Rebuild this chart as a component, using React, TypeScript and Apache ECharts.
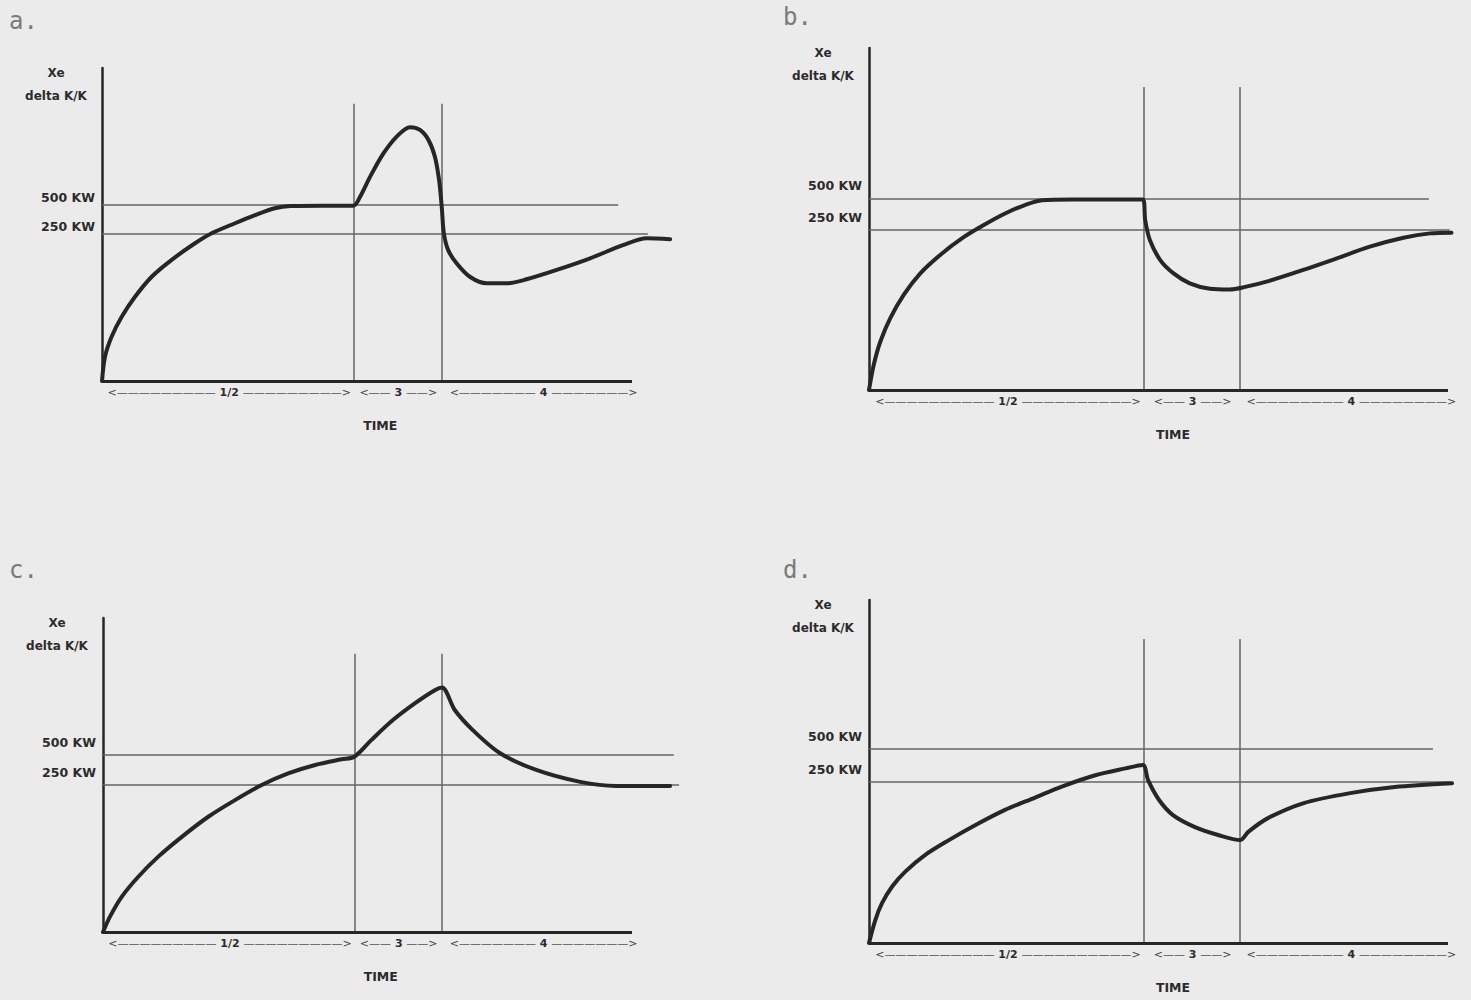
import React, { useEffect, useRef } from 'react';
import * as echarts from 'echarts';

// ---- texts ----
const PANEL_LETTERS = ['a.', 'b.', 'c.', 'd.'];
const Y_NAME = ['Xe', 'delta K/K'];
const X_NAME = 'TIME';
const LEVEL_LABELS = ['500 KW', '250 KW'];
const PHASE_LABELS = ['1/2', '3', '4'];

// ---- values (time in % of axis length, Xe in % of axis height) ----
const PHASE_BOUNDS = [47.5, 64.1];
const PHASE_CENTERS = [24.0, 55.9, 83.3];
const VLINE_TOP = 88.6;
const AXIS_END = 100;
const LEVEL_500 = [56.2, 56.0, 56.4, 56.6];
const LEVEL_250 = [47.0, 46.8, 46.8, 46.9];
const LEVEL_500_END = [97.4, 96.7, 107.9, 97.4];
const LEVEL_250_END = [103.0, 100.3, 108.9, 100.3];

const CURVE_A = [
  [0, 0], [0.57, 7.8], [1.83, 14.2], [3.72, 20.5], [6.23, 26.9], [9.38, 33.3], [13.15, 38.7],
  [17.55, 44.0], [20.7, 47.2], [25.1, 50.4], [28.9, 53.0], [32.6, 55.2], [35.6, 55.9],
  [41.5, 56.0], [47.4, 56.0], [48.7, 58.9], [50.6, 65.3], [53.1, 72.7], [55.6, 78.1],
  [58.1, 81.1], [60.0, 80.2], [61.6, 77.0], [62.8, 71.7], [63.6, 64.2], [64.1, 55.7],
  [64.5, 47.2], [65.3, 41.9], [66.9, 37.6], [69.4, 33.3], [72.6, 31.2], [76.4, 31.2],
  [80.1, 32.5], [85.8, 35.5], [92.1, 39.2], [98.4, 43.5], [102.8, 45.6], [107.2, 45.3],
];
const CURVE_B = [
  [0, 0], [0.81, 7.3], [1.95, 14.1], [3.68, 21.0], [5.99, 27.8], [8.86, 34.1], [12.3, 39.5],
  [16.1, 44.4], [19.9, 48.3], [23.5, 51.6], [26.8, 54.0], [29.9, 55.5], [35.0, 55.7],
  [41.0, 55.7], [47.3, 55.7], [47.7, 49.7], [48.5, 43.9], [50.3, 38.0], [52.6, 34.1],
  [55.4, 31.2], [58.9, 29.6], [62.3, 29.4], [64.6, 30.0], [69.3, 32.0], [75.0, 35.1],
  [80.8, 38.5], [86.5, 41.9], [92.3, 44.5], [96.9, 45.8], [100.6, 46.0],
];
const CURVE_C = [
  [0, 0], [1.32, 4.9], [3.53, 11.2], [6.67, 17.6], [10.45, 24.0], [14.9, 30.3], [19.9, 36.7],
  [24.95, 42.0], [30.0, 46.8], [35.0, 50.5], [40.1, 53.2], [45.1, 55.0], [47.5, 55.8],
  [50.7, 61.1], [54.8, 67.5], [59.0, 72.9], [62.8, 77.1], [64.1, 77.9], [66.5, 70.7],
  [69.9, 64.3], [75.0, 57.0], [81.9, 51.6], [90.2, 47.8], [97.0, 46.5], [107.2, 46.5],
];
const CURVE_D = [
  [0, 0], [1.09, 6.7], [2.25, 11.6], [3.97, 16.4], [6.27, 20.8], [9.72, 25.7], [13.8, 30.0],
  [18.4, 34.4], [23.5, 38.8], [28.7, 42.4], [33.3, 45.6], [39.1, 48.9], [44.3, 50.9],
  [47.3, 51.9], [48.2, 47.5], [50.1, 41.7], [52.5, 37.3], [56.3, 33.8], [60.3, 31.5],
  [64.1, 30.0], [65.5, 32.4], [68.9, 36.4], [75.1, 40.8], [83.1, 43.7], [90.8, 45.5],
  [100.7, 46.6],
];
const CURVES = [CURVE_A, CURVE_B, CURVE_C, CURVE_D];

// ---- layout (pixels) ----
const LAYOUT = [
  { left: 102, top: 68, height: 313, axisLen: 530, xMax: 110, letterX: 9, letterY: 21, dashes: [9, 2, 7], lift: 1 },
  { left: 869, top: 48, height: 342, axisLen: 579, xMax: 102, letterX: 783, letterY: 17, dashes: [10, 2, 8], lift: 6 },
  { left: 103, top: 618, height: 314, axisLen: 529, xMax: 110, letterX: 9, letterY: 570, dashes: [9, 2, 7], lift: 6 },
  { left: 869, top: 600, height: 343, axisLen: 579, xMax: 102, letterX: 783, letterY: 570, dashes: [10, 2, 8], lift: 6 },
];

const INK = '#262626';
const RULE = '#646464';
const FONT = "'DejaVu Sans', 'Liberation Sans', sans-serif";

function nearest(arr: number[], v: number) {
  let best = 0;
  for (let i = 1; i < arr.length; i++) if (Math.abs(arr[i] - v) < Math.abs(arr[best] - v)) best = i;
  return best;
}

function buildOption() {
  const grid: any[] = [];
  const xAxis: any[] = [];
  const yAxis: any[] = [];
  const series: any[] = [];
  const graphic: any[] = [];

  LAYOUT.forEach((L, i) => {
    grid.push({
      left: L.left,
      top: L.top,
      height: L.height,
      width: (L.axisLen * L.xMax) / AXIS_END,
      containLabel: false,
    });
    xAxis.push({
      gridIndex: i,
      type: 'value',
      min: 0,
      max: L.xMax,
      axisLine: { show: false },
      axisTick: { show: false },
      splitLine: { show: false },
      axisLabel: {
        customValues: PHASE_CENTERS,
        margin: 6,
        formatter: (v: number) => {
          const k = nearest(PHASE_CENTERS, v);
          const d = '\u2014'.repeat(L.dashes[k]);
          return `{p|<}{d|${d}}{n| ${PHASE_LABELS[k]} }{d|${d}}{p|>}`;
        },
        rich: {
          p: { fontFamily: FONT, fontSize: 11, color: '#444' },
          d: { fontFamily: FONT, fontSize: 11, color: '#555' },
          n: { fontFamily: FONT, fontSize: 11, fontWeight: 'bold', color: '#2b2b2b' },
        },
      },
    });
    const levels = [LEVEL_500[i], LEVEL_250[i]];
    yAxis.push({
      gridIndex: i,
      type: 'value',
      min: 0,
      max: 100,
      axisLine: { show: true, lineStyle: { color: INK, width: 2.5 } },
      axisTick: { show: false },
      splitLine: { show: false },
      axisLabel: {
        customValues: levels,
        margin: 7,
        verticalAlign: 'bottom',
        padding: [0, 0, L.lift, 0],
        fontFamily: FONT,
        fontWeight: 'bold',
        fontSize: 12.5,
        color: '#2b2b2b',
        formatter: (v: number) => LEVEL_LABELS[nearest(levels, v)],
      },
    });

    const thin = { color: RULE, width: 1.5, type: 'solid' };
    series.push({
      type: 'line',
      xAxisIndex: i,
      yAxisIndex: i,
      data: [],
      silent: true,
      markLine: {
        silent: true,
        symbol: ['none', 'none'],
        label: { show: false },
        lineStyle: thin,
        data: [
          [{ coord: [0, LEVEL_500[i]] }, { coord: [LEVEL_500_END[i], LEVEL_500[i]] }],
          [{ coord: [0, LEVEL_250[i]] }, { coord: [LEVEL_250_END[i], LEVEL_250[i]] }],
          [{ coord: [PHASE_BOUNDS[0], 0] }, { coord: [PHASE_BOUNDS[0], VLINE_TOP] }],
          [{ coord: [PHASE_BOUNDS[1], 0] }, { coord: [PHASE_BOUNDS[1], VLINE_TOP] }],
          [
            { coord: [0, 0], lineStyle: { color: INK, width: 3, type: 'solid' } },
            { coord: [AXIS_END, 0] },
          ],
        ],
      },
    });
    series.push({
      type: 'line',
      xAxisIndex: i,
      yAxisIndex: i,
      data: CURVES[i],
      symbol: 'none',
      smooth: 0.3,
      silent: true,
      z: 5,
      lineStyle: { color: INK, width: 4, cap: 'round', join: 'round' },
    });

    // texts
    graphic.push({
      type: 'text',
      x: L.letterX,
      y: L.letterY,
      style: {
        text: PANEL_LETTERS[i],
        font: "normal 24px 'DejaVu Sans Mono', monospace",
        fill: '#7a7a7a',
        align: 'left',
        verticalAlign: 'middle',
      },
    });
    graphic.push({
      type: 'text',
      x: L.left - 46,
      y: L.top + 5,
      style: { text: Y_NAME[0], font: `bold 12px ${FONT}`, fill: '#2b2b2b', align: 'center', verticalAlign: 'middle' },
    });
    graphic.push({
      type: 'text',
      x: L.left - 46,
      y: L.top + 28,
      style: { text: Y_NAME[1], font: `bold 12px ${FONT}`, fill: '#2b2b2b', align: 'center', verticalAlign: 'middle' },
    });
    graphic.push({
      type: 'text',
      x: L.left + 0.525 * L.axisLen,
      y: L.top + L.height + 44,
      style: { text: X_NAME, font: `bold 12.5px ${FONT}`, fill: '#2b2b2b', align: 'center', verticalAlign: 'middle' },
    });
  });

  return {
    animation: false,
    backgroundColor: '#ebebeb',
    grid,
    xAxis,
    yAxis,
    series,
    graphic,
  };
}

export default function App() {
  const ref = useRef<HTMLDivElement>(null);
  useEffect(() => {
    if (!ref.current) return;
    const chart = echarts.init(ref.current, null, { renderer: 'svg' });
    chart.setOption(buildOption() as any);
    return () => chart.dispose();
  }, []);
  return (
    <div
      ref={ref}
      style={{ position: 'fixed', left: 0, top: 0, width: 1471, height: 1000, background: '#ebebeb' }}
    />
  );
}
